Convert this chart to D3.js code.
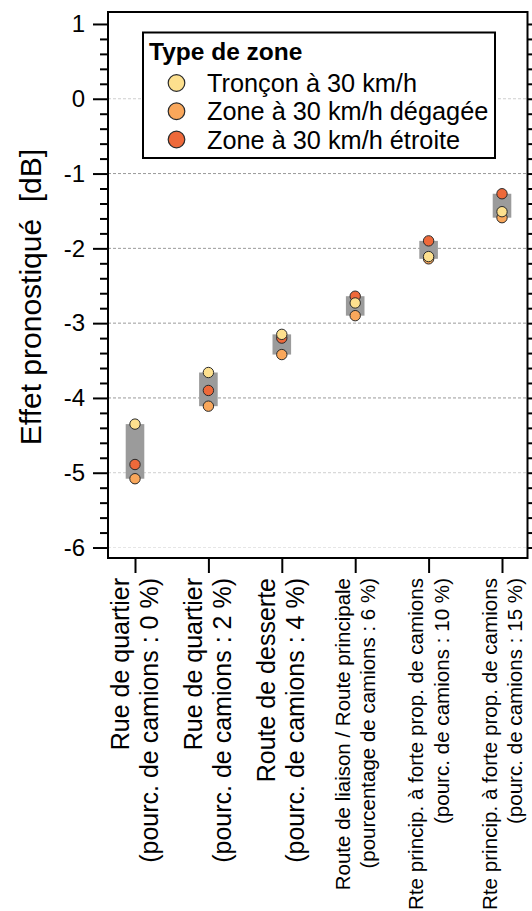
<!DOCTYPE html>
<html><head><meta charset="utf-8">
<script src="https://cdn.jsdelivr.net/npm/d3@7"></script>
<style>
html,body{margin:0;padding:0;background:#fff;overflow:hidden;}
svg{display:block;font-family:"Liberation Sans",Arial,Helvetica,sans-serif;}
text{white-space:pre;}
</style></head>
<body>
<script>
// ---- data ----
const categoriesLine1 = [
  "Rue de quartier",
  "Rue de quartier",
  "Route de desserte",
  "Route de liaison / Route principale",
  "Rte princip. à forte prop. de camions",
  "Rte princip. à forte prop. de camions"
];
const categoriesLine2 = [
  "(pourc. de camions : 0 %)",
  "(pourc. de camions : 2 %)",
  "(pourc. de camions : 4 %)",
  "(pourcentage de camions : 6 %)",
  "(pourc. de camions : 10 %)",
  "(pourc. de camions : 15 %)"
];
const seriesNames = ["Tronçon à 30 km/h", "Zone à 30 km/h dégagée", "Zone à 30 km/h étroite"];
const tronconValues = [-4.35, -3.66, -3.15, -2.73, -2.11, -1.51];
const degageeValues = [-5.08, -4.11, -3.42, -2.90, -2.14, -1.59];
const etroiteValues = [-4.89, -3.90, -3.20, -2.64, -1.90, -1.27];
const yTickValues = [1, 0, -1, -2, -3, -4, -5, -6];
const legendTitle = "Type de zone";
const yTitle = "Effet pronostiqué  [dB]";

// ---- styles ----
const colors = ["#fde08e", "#f9a75b", "#ee693a"];
const W = 532, H = 911;
const mLeft = 108, mRight = 527.5, mTop = 12, mBottom = 558;

const svg = d3.select("body").append("svg").attr("width", W).attr("height", H);

const y = d3.scaleLinear().domain([-6.14, 1.16]).range([mBottom, mTop]);
const x = d3.scalePoint().domain(d3.range(categoriesLine1.length)).range([135, 502]);

// grid lines
const gridColor = v => (v <= -1 && v >= -4) ? "#9a9a9a" : (v === -6 ? "#e6e6e6" : "#cfcfcf");
svg.append("g").selectAll("line").data(yTickValues.filter(v => v < 1)).join("line")
  .attr("x1", mLeft).attr("x2", mRight)
  .attr("y1", d => y(d)).attr("y2", d => y(d))
  .attr("stroke", d => gridColor(d)).attr("stroke-width", 1)
  .attr("stroke-dasharray", "3,2");

// axes
const minorTicks = d3.range(-30, 6).map(v => v / 5).filter(v => !Number.isInteger(v));
const axisStyle = g => { g.select(".domain").remove(); g.selectAll("line").attr("stroke", "#000").attr("stroke-width", 2); };

svg.append("g").attr("transform", `translate(${mLeft},0)`)
  .call(d3.axisLeft(y).tickValues(minorTicks).tickSize(8).tickFormat(""))
  .call(axisStyle);
svg.append("g").attr("transform", `translate(${mLeft},0)`)
  .call(d3.axisLeft(y).tickValues(yTickValues).tickSize(15).tickPadding(8).tickFormat(d3.format("d")))
  .call(axisStyle)
  .call(g => g.selectAll("text").attr("font-size", 24).attr("fill", "#000")
    .attr("font-family", "Liberation Sans, Arial, sans-serif").text(d => d < 0 ? "-" + Math.abs(d) : d));

svg.append("g").attr("transform", `translate(${mRight},0)`)
  .call(d3.axisRight(y).tickValues(minorTicks).tickSize(8).tickFormat(""))
  .call(axisStyle);
svg.append("g").attr("transform", `translate(${mRight},0)`)
  .call(d3.axisRight(y).tickValues(yTickValues).tickSize(15).tickFormat(""))
  .call(axisStyle);

svg.append("g").attr("transform", `translate(0,${mBottom})`)
  .call(d3.axisBottom(x).tickSize(15).tickFormat(""))
  .call(axisStyle);

// frame
svg.append("rect").attr("x", mLeft).attr("y", mTop)
  .attr("width", mRight - mLeft).attr("height", mBottom - mTop)
  .attr("fill", "none").attr("stroke", "#000").attr("stroke-width", 2);

// range boxes
const allSeries = [tronconValues, degageeValues, etroiteValues];
const boxW = 18.6;
svg.append("g").selectAll("rect").data(d3.range(categoriesLine1.length)).join("rect")
  .attr("x", i => x(i) - boxW / 2)
  .attr("width", boxW)
  .attr("y", i => y(d3.max(allSeries, s => s[i])))
  .attr("height", i => y(d3.min(allSeries, s => s[i])) - y(d3.max(allSeries, s => s[i])))
  .attr("fill", "#9b9b9b");

// points
[1, 2, 0].forEach(si => {
  svg.append("g").selectAll("circle").data(allSeries[si]).join("circle")
    .attr("cx", (d, i) => x(i)).attr("cy", d => y(d)).attr("r", 5.2)
    .attr("fill", colors[si]).attr("stroke", "#2a2a2a").attr("stroke-width", 1);
});

// x labels
const xl = svg.append("g");
d3.range(categoriesLine1.length).forEach(i => {
  const fs = i < 3 ? 25 : (i === 3 ? 20.5 : 20.6);
  const lh = i < 3 ? 29 : 25.5;
  const b1 = x(i) - 0.26 * fs;
  const g = xl.append("g").attr("font-size", fs).attr("fill", "#000").attr("text-anchor", "end");
  g.append("text").attr("transform", `translate(${b1},578) rotate(-90)`).text(categoriesLine1[i]);
  g.append("text").attr("transform", `translate(${b1 + lh},578) rotate(-90)`).text(categoriesLine2[i]);
});

// y title
svg.append("text").attr("transform", "translate(41,297) rotate(-90)")
  .attr("text-anchor", "middle").attr("font-size", 30).attr("fill", "#000").text(yTitle);

// legend
const lg = svg.append("g");
lg.append("rect").attr("x", 143).attr("y", 32.5).attr("width", 352).attr("height", 125.5)
  .attr("fill", "#fff").attr("stroke", "#000").attr("stroke-width", 2);
lg.append("text").attr("x", 149).attr("y", 60).attr("font-size", 24.5).attr("font-weight", "bold").text(legendTitle);
const ly = d3.scalePoint().domain(d3.range(seriesNames.length)).range([83, 139.5]);
seriesNames.forEach((n, i) => {
  lg.append("circle").attr("cx", 176.5).attr("cy", ly(i)).attr("r", 8.3)
    .attr("fill", colors[i]).attr("stroke", "#2a2a2a").attr("stroke-width", 1.2);
  lg.append("text").attr("x", 207).attr("y", ly(i)).attr("dy", "0.36em")
    .attr("font-size", 25.3).text(n);
});
</script>
</body></html>
